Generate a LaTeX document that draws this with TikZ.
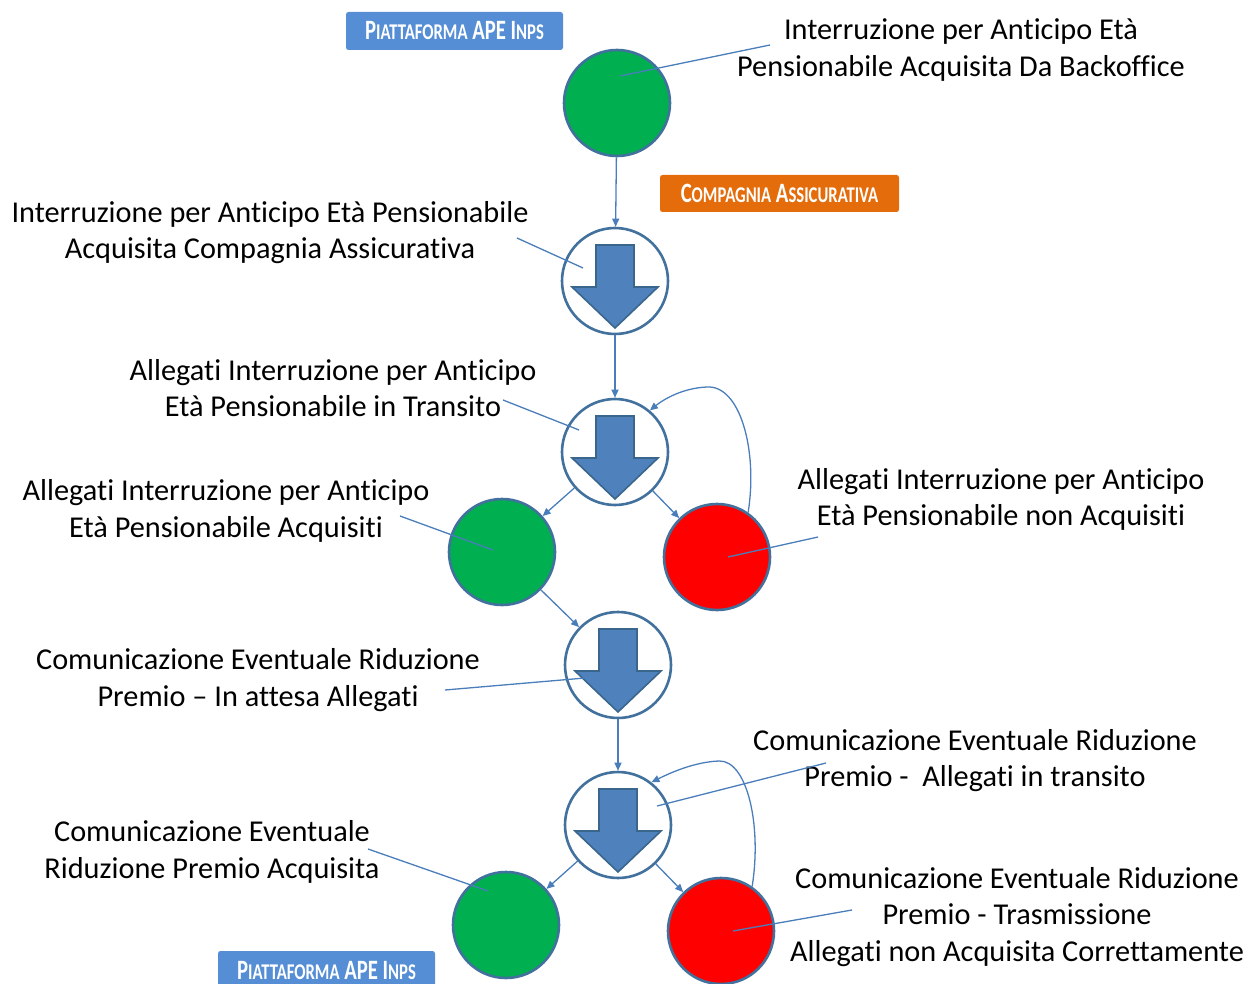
\documentclass[tikz,border=0pt]{standalone}
\usepackage{fontspec}
\setmainfont{Carlito}[Ligatures=NoCommon]
\newfontfamily\hdrfont{Carlito}[FakeStretch=0.74,Ligatures=NoCommon]
\usetikzlibrary{arrows.meta}
\definecolor{cborder}{HTML}{41719C}
\definecolor{cgreen}{HTML}{00B050}
\definecolor{cred}{HTML}{FF0000}
\definecolor{carrow}{HTML}{4F81BD}
\definecolor{cline}{HTML}{4A7EBB}
\definecolor{hblue}{HTML}{558ED5}
\definecolor{horange}{HTML}{E46C0A}
\newcommand{\hdr}[2]{#1{\fontsize{22.5}{24}\selectfont #2}}
\begin{document}
\begin{tikzpicture}[x=1pt,y=-1pt,
  circ/.style={circle,draw=cborder,line width=2.6pt,minimum size=106pt,inner sep=0pt},
  greennode/.style={circ,fill=cgreen},
  rednode/.style={circ,fill=cred},
  arrnode/.style={circ,fill=white},
  lbl/.style={align=center,inner sep=0pt,font=\fontsize{30.3}{36.5}\selectfont},
  hdrbox/.style={rounded corners=2.5pt,inner sep=0pt,text=white,font=\hdrfont\bfseries\fontsize{28}{30}\selectfont,minimum height=38pt},
  conn/.style={draw=cline,line width=1.3pt,-{Triangle[length=8pt,width=7pt]}},
  ptr/.style={draw=cline,line width=1.3pt},
  downarr/.pic={\draw[fill=carrow,draw=cborder!90!black,line width=1.6pt,line join=miter]
     (-19,-36) -- (19,-36) -- (19,6) -- (43,6) -- (0,47) -- (-43,6) -- (-19,6) -- cycle;}
]
\useasboundingbox (0,0) rectangle (1250,984);
% circles
\node[greennode] (G1) at (617,103) {};
\node[arrnode] (A1) at (615,281) {};
\node[arrnode] (A2) at (615,452) {};
\node[greennode] (G2) at (502,552) {};
\node[rednode] (R1) at (717,557) {};
\node[arrnode] (A3) at (618,665) {};
\node[arrnode] (A4) at (618,825) {};
\node[greennode] (G3) at (506,925) {};
\node[rednode] (R2) at (721,931) {};
\foreach \n in {A1,A2,A3,A4} { \pic at (\n) {downarr}; }
% headers
\node[hdrbox,fill=hblue,minimum width=217pt] (H1) at (454.5,31) {\hdr{P}{IATTAFORMA} APE \hdr{I}{NPS}};
\node[hdrbox,fill=horange,minimum width=239pt,minimum height=37pt] (H2) at (779.5,193.5) {\hdr{C}{OMPAGNIA} \hdr{A}{SSICURATIVA}};
\node[hdrbox,fill=hblue,minimum width=217pt] (H3) at (326.5,970) {\hdr{P}{IATTAFORMA} APE \hdr{I}{NPS}};
% labels
\node[lbl] (L1) at (961,50) {Interruzione per Anticipo Età\\Pensionabile Acquisita Da Backoffice};
\node[lbl] (L2) at (270,232.5) {Interruzione per Anticipo Età Pensionabile\\Acquisita Compagnia Assicurativa};
\node[lbl] (L3) at (333,388) {Allegati Interruzione per Anticipo\\Età Pensionabile in Transito};
\node[lbl] (L4) at (226,511) {Allegati Interruzione per Anticipo\\Età Pensionabile Acquisiti};
\node[lbl] (L5) at (1001,499.5) {Allegati Interruzione per Anticipo\\Età Pensionabile non Acquisiti};
\node[lbl] (L6) at (258,680) {Comunicazione Eventuale Riduzione\\Premio – In attesa Allegati};
\node[lbl] (L7) at (975,760.5) {Comunicazione Eventuale Riduzione\\Premio -~ Allegati in transito};
\node[lbl] (L8) at (212,852) {Comunicazione Eventuale\\Riduzione Premio Acquisita};
\node[lbl] (L9) at (1017,917) {Comunicazione Eventuale Riduzione\\Premio - Trasmissione\\Allegati non Acquisita Correttamente};
% pointer coordinates
\coordinate (s1) at (770,45);  \coordinate (e1) at (620,76);
\coordinate (s2) at (517,238); \coordinate (e2) at (583,268);
\coordinate (s3) at (503,400); \coordinate (e3) at (579,430);
\coordinate (s4) at (400,516); \coordinate (e4) at (493,550);
\coordinate (s5) at (818,537); \coordinate (e5) at (728,557);
\coordinate (s6) at (445,690); \coordinate (e6) at (585,678);
\coordinate (s7) at (826,763); \coordinate (e7) at (657,806);
\coordinate (s8) at (368,849); \coordinate (e8) at (488,891);
\coordinate (s9) at (852,910); \coordinate (e9) at (733,931);
\foreach \i in {1,...,9} { \draw[ptr] (s\i) -- (e\i); }
% connectors
\draw[conn] (G1) -- (A1);
\draw[conn] (A1) -- (A2);
\draw[conn] (A2) -- (G2);
\draw[conn] (A2) -- (R1);
\draw[conn] (G2) -- (A3);
\draw[conn] (A3) -- (A4);
\draw[conn] (A4) -- (G3);
\draw[conn] (A4) -- (R2);
\draw[conn] (R1.55) .. controls (758,450) and (740,385) .. (707,387) .. controls (683,388) and (664,399) .. (A2.50);
\draw[conn] (R2.55) .. controls (762,825) and (747,760) .. (719,761) .. controls (694,762) and (670,773) .. (A4.52);
\end{tikzpicture}
\end{document}
